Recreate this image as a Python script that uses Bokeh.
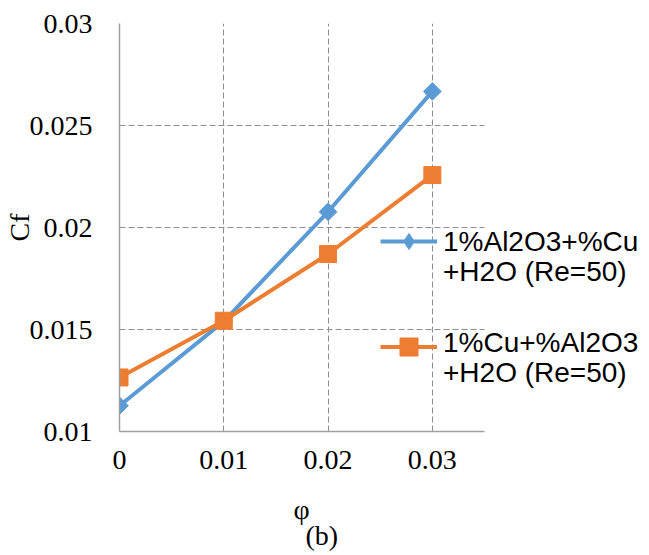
import math
from bokeh.plotting import figure
from bokeh.core.properties import value
from bokeh.models import (Range1d, FixedTicker, NumeralTickFormatter, Legend,
                          LegendItem, Title)
from bokeh.embed import file_html
from bokeh.resources import INLINE

try:
    from bokeh.models import HTMLLabel
except ImportError:
    HTMLLabel = None

# Volume fraction (phi) and skin-friction coefficient Cf for the two hybrid nanofluids
phi = [0.0, 0.01, 0.02, 0.03]
cf_al2o3_cu = [0.01126, 0.0154, 0.02077, 0.02667]
cf_cu_al2o3 = [0.01265, 0.01543, 0.0187, 0.02257]

series_labels = [("1%Al2O3+%Cu", "+H2O (Re=50)"), ("1%Cu+%Al2O3", "+H2O (Re=50)")]
x_ticks = [0.0, 0.01, 0.02, 0.03]
y_ticks = [0.01, 0.015, 0.02, 0.025, 0.03]
x_axis_end = 0.035

FONT = "Liberation Serif"
BLUE = "#5B9BD5"
ORANGE = "#ED7D31"

# frame geometry (pixels); the frame runs to the right edge so the key is not clipped
W, H = 649, 555
LEFT, TOP, BOTTOM = 119, 23, 124
FRAME_W, FRAME_H = W - LEFT, H - TOP - BOTTOM
x_end = x_axis_end * FRAME_W / 365
y0, y1 = 0.01, 0.03

p = figure(width=W, height=H, output_backend="svg", toolbar_location=None,
           x_range=Range1d(0.0, x_end), y_range=Range1d(y0, y1),
           min_border_left=LEFT, min_border_right=0,
           min_border_top=TOP, min_border_bottom=BOTTOM)
p.outline_line_color = None
p.background_fill_color = "white"

# axes
for ax in (p.xaxis[0], p.yaxis[0]):
    ax.axis_line_color = "#a0a0a0"
    ax.axis_line_width = 1.5
    ax.major_tick_line_color = None
    ax.minor_tick_line_color = None
    ax.major_tick_in = 0
    ax.major_tick_out = 0
    ax.major_label_text_font = FONT
    ax.major_label_text_font_size = "28px"
    ax.major_label_text_color = "black"
    ax.axis_label_text_font = FONT
    ax.axis_label_text_font_size = "28px"
    ax.axis_label_text_font_style = "normal"
    ax.axis_label_text_color = "black"

p.xaxis.bounds = (0.0, x_axis_end)
p.xaxis.ticker = FixedTicker(ticks=x_ticks)
p.yaxis.ticker = FixedTicker(ticks=y_ticks)
p.xaxis.formatter = NumeralTickFormatter(format="0.[000]")
p.yaxis.formatter = NumeralTickFormatter(format="0.[000]")
p.yaxis.major_label_standoff = 27
p.xaxis.major_label_standoff = 19
p.yaxis.axis_label = "Cf"
p.yaxis.axis_label_standoff = -8

# dashed grid, limited to the axis extent
p.xgrid.ticker = FixedTicker(ticks=x_ticks[1:])
p.ygrid.ticker = FixedTicker(ticks=y_ticks[1:])
p.ygrid.cross_bounds = (0.0, x_axis_end)
for g in (p.xgrid[0], p.ygrid[0]):
    g.grid_line_color = "#8f8f8f"
    g.grid_line_width = 1
    g.grid_line_dash = "6 3"

# series (the narrow diamond sits under the rotated square and supplies the legend key)
l1 = p.line(phi, cf_al2o3_cu, line_color=BLUE, line_width=4)
key_diamond = p.scatter(phi, cf_al2o3_cu, marker="diamond", size=15,
                        fill_color=BLUE, line_color=BLUE)
m1 = p.scatter(phi, cf_al2o3_cu, marker="square", angle=math.pi / 4, size=12.5,
               fill_color=BLUE, line_color=BLUE)
l2 = p.line(phi, cf_cu_al2o3, line_color=ORANGE, line_width=4)
m2 = p.scatter(phi, cf_cu_al2o3, marker="square", size=17,
               fill_color=ORANGE, line_color=ORANGE)


# legend keys (line + marker); the key texts are drawn beside them
def legend_key(renderers, loc, glyph_h):
    lg = Legend(items=[LegendItem(label=" ", renderers=renderers)], location=loc)
    lg.border_line_color = None
    lg.background_fill_alpha = 0
    lg.padding = 0
    lg.margin = 0
    lg.spacing = 0
    lg.glyph_width = 57
    lg.glyph_height = glyph_h
    lg.label_height = 4
    lg.label_width = 1
    lg.label_standoff = 0
    lg.label_text_font_size = "4px"
    p.add_layout(lg)


legend_key([l1, key_diamond], (261, 170), 40)
legend_key([l2, m2], (261, 62), 45)

# key texts: two lines per series, placed by the pixel centre of each line
key_px_x = 443
key_centres = [(242, 272), (343, 373)]


def key_texts_as_glyphs():
    texts, tx, ty = [], [], []
    for lines, centres in zip(series_labels, key_centres):
        for txt, yc in zip(lines, centres):
            texts.append(txt)
            tx.append((key_px_x - LEFT) * x_end / FRAME_W)
            ty.append(y0 + (TOP + FRAME_H - yc) * (y1 - y0) / FRAME_H)
    p.text(x=tx, y=ty, text=texts, text_font=value(FONT), text_font_size="28px",
           text_color="black", text_align="left", text_baseline="middle")


if HTMLLabel is not None:
    try:
        for lines, centres in zip(series_labels, key_centres):
            for txt, yc in zip(lines, centres):
                p.add_layout(HTMLLabel(x=key_px_x - LEFT, y=TOP + FRAME_H - yc,
                                       x_units="screen", y_units="screen", text=txt,
                                       text_font=FONT, text_font_size="28px",
                                       text_color="black", text_align="left",
                                       text_baseline="middle"))
    except Exception:
        p.center = [r for r in p.center if not isinstance(r, HTMLLabel)]
        key_texts_as_glyphs()
else:
    key_texts_as_glyphs()

# x-axis title and sub-figure caption (a blank spacer title sets the gap below the ticks)
spacer = Title(text=" ", text_font_size="2px", standoff=16)
phi_title = Title(text="φ", align="left", offset=174, standoff=0,
                  text_font=FONT, text_font_size="28px", text_font_style="normal",
                  text_color="black")
caption = Title(text="(b)", align="left", offset=186, standoff=-9, vertical_align="top",
                text_font=FONT, text_font_size="28px", text_font_style="normal",
                text_color="black")
p.add_layout(spacer, "below")
p.add_layout(phi_title, "below")
p.add_layout(caption, "below")

open("out.html", "w").write(file_html(p, INLINE))
